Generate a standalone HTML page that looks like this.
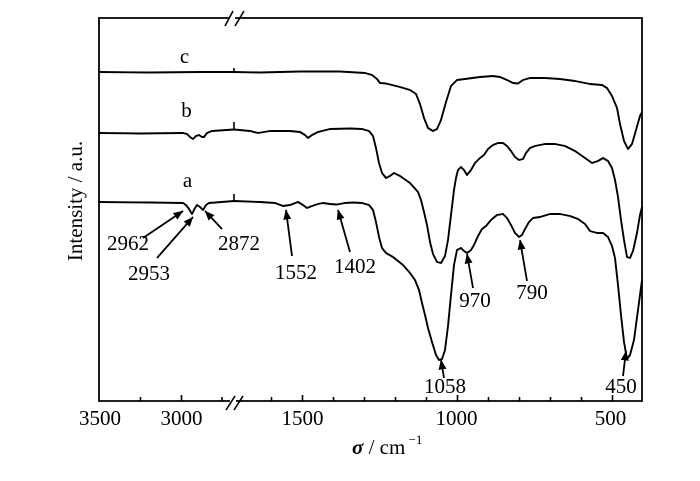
<!DOCTYPE html>
<html>
<head>
<meta charset="utf-8">
<style>
  html,body{margin:0;padding:0;background:#fff;}
  svg{display:block;}
  text{font-family:"Liberation Serif","Times New Roman",serif;font-size:21px;fill:#000;}
</style>
</head>
<body>
<svg width="700" height="481" viewBox="0 0 700 481" xmlns="http://www.w3.org/2000/svg">
  <defs>
    <marker id="ah" markerWidth="10" markerHeight="8" refX="9.5" refY="4" orient="auto" markerUnits="userSpaceOnUse">
      <path d="M0,0 L10,4 L0,8 Z" fill="#000"/>
    </marker>
  </defs>
  <rect width="700" height="481" fill="#fff"/>

  <!-- frame -->
  <g stroke="#000" stroke-width="1.8" fill="none">
    <line x1="99" y1="18" x2="642" y2="18"/>
    <line x1="99" y1="17.1" x2="99" y2="401.9"/>
    <line x1="642" y1="17.1" x2="642" y2="401.9"/>
    <line x1="99" y1="401" x2="642" y2="401"/>
  </g>

  <!-- break marks -->
  <rect x="229" y="14" width="6" height="8" fill="#fff"/>
  <rect x="230" y="397" width="6" height="8" fill="#fff"/>
  <g stroke="#000" stroke-width="1.6">
    <line x1="225" y1="26" x2="233" y2="11"/>
    <line x1="235" y1="26" x2="244" y2="11"/>
    <line x1="226" y1="410" x2="235" y2="396"/>
    <line x1="234" y1="410" x2="243" y2="396"/>
  </g>

  <!-- ticks -->
  <g stroke="#000" stroke-width="1.6">
    <line x1="140.5" y1="401" x2="140.5" y2="397"/>
    <line x1="181.5" y1="401" x2="181.5" y2="395"/>
    <line x1="222" y1="401" x2="222" y2="397"/>
    <line x1="271.5" y1="401" x2="271.5" y2="397"/>
    <line x1="302.5" y1="401" x2="302.5" y2="395"/>
    <line x1="333.5" y1="401" x2="333.5" y2="397"/>
    <line x1="364.5" y1="401" x2="364.5" y2="397"/>
    <line x1="395.5" y1="401" x2="395.5" y2="397"/>
    <line x1="426.5" y1="401" x2="426.5" y2="397"/>
    <line x1="457.5" y1="401" x2="457.5" y2="395"/>
    <line x1="488.5" y1="401" x2="488.5" y2="397"/>
    <line x1="519.5" y1="401" x2="519.5" y2="397"/>
    <line x1="550.5" y1="401" x2="550.5" y2="397"/>
    <line x1="581.5" y1="401" x2="581.5" y2="397"/>
    <line x1="612.5" y1="401" x2="612.5" y2="395"/>
  </g>

  <!-- tick labels -->
  <g text-anchor="middle">
    <text x="100" y="425">3500</text>
    <text x="181.5" y="425">3000</text>
    <text x="302.5" y="425">1500</text>
    <text x="456.5" y="425">1000</text>
    <text x="610.5" y="425">500</text>
  </g>

  <!-- axis titles -->
  <text x="352" y="454"><tspan font-weight="bold" font-style="italic">σ</tspan> / cm<tspan font-size="13" dy="-10"> −1</tspan></text>
  <text transform="translate(82,201) rotate(-90)" text-anchor="middle">Intensity / a.u.</text>

  <!-- curve labels -->
  <g text-anchor="middle">
    <text x="184.5" y="63">c</text>
    <text x="186.5" y="117">b</text>
    <text x="187.5" y="187">a</text>
  </g>

  <!-- curves -->
  <g stroke="#000" stroke-width="1.9" fill="none" stroke-linejoin="round" stroke-linecap="round">
    <polyline points="99,72 150,72.5 200,72 234,72 260,72.5 300,71.5 340,71.5 365,73 372,75 377,79 380,83 386,83.5 400,87 410,90 416,94 420,104 424,118 428,128 433,131 437,129 441,120 446,102 451,86 457,80 465,79 480,77 493,76 500,77 507,80 513,83 518,83.5 523,80 530,78 545,78 560,79 575,81 590,84 602,85 607,88 612,96 617,108 620,124 624,141 628,149 632,144 636,130 640,116 642,112"/>
    <polyline points="99,133 140,133.5 183,133 187,134 190,137 193,139 196,136 199,135 202,137 204,137 207,133 212,131 234,129.5 250,131 258,133 270,131 290,131 300,132 305,135 308,138 312,135 318,132 330,129 350,128.5 362,129 369,131 373,136 376,148 379,163 382,173 386,178 390,176 394,173 400,176 410,183 418,192 421,200 424,212 427,225 430,242 433,254 437,262 441,263 445,256 448,240 451,215 454,190 456,178 458,170 461,167 464,170 467,175 471,170 475,163 480,158 484,155 488,149 493,145 498,143 503,143 507,146 511,151 515,157 519,160 523,159 526,153 530,148 535,146 545,144 555,144 565,146 575,151 585,158 592,163 598,161 603,158 608,161 612,168 615,180 618,197 621,220 624,240 627,257 630,258 633,251 637,233 640,215 642,207"/>
    <polyline points="99,202 150,202.5 183,203 186,205 189,209 192,214 195,208 197,205 200,207 203,210 206,205 209,203 234,201 260,202 275,203 283,206 290,205 298,202 303,205 307,208 312,206 318,204 323,203 330,204 337,204.5 345,203 353,202.5 362,203 369,205 373,210 376,222 379,237 382,248 386,253 393,257 403,265 410,273 415,280 419,290 422,303 425,315 428,328 432,342 436,355 439,360 442,359 445,350 448,326 451,295 454,265 457,250 461,248 464,251 467,253 471,250 474,245 478,236 482,229 486,226 491,220 497,215 503,214 507,218 511,225 515,233 519,237 522,235 525,229 529,222 533,218 540,217 550,214 560,214 570,216 578,219 585,224 590,231 597,233 603,233 608,237 612,246 615,258 618,285 621,315 624,342 627,359 630,355 634,340 638,310 642,280"/>
  </g>

  <!-- break ticks on curves -->
  <g stroke="#000" stroke-width="1.6">
    <line x1="234" y1="68" x2="234" y2="72"/>
    <line x1="234" y1="122" x2="234" y2="129.5"/>
    <line x1="234" y1="194" x2="234" y2="201"/>
  </g>

  <!-- arrows -->
  <g stroke="#000" stroke-width="1.8" marker-end="url(#ah)">
    <line x1="143" y1="238" x2="183" y2="211"/>
    <line x1="157" y1="258" x2="193" y2="217"/>
    <line x1="222" y1="229" x2="205" y2="211"/>
    <line x1="292" y1="256" x2="286" y2="210"/>
    <line x1="350" y1="252" x2="338" y2="210"/>
    <line x1="473" y1="288" x2="467" y2="254"/>
    <line x1="527" y1="281" x2="520" y2="240"/>
    <line x1="444" y1="378" x2="441" y2="360"/>
    <line x1="623" y1="376" x2="626" y2="351"/>
  </g>

  <!-- peak labels -->
  <g text-anchor="middle">
    <text x="128" y="250">2962</text>
    <text x="149" y="280">2953</text>
    <text x="239" y="250">2872</text>
    <text x="296" y="279">1552</text>
    <text x="355" y="273">1402</text>
    <text x="475" y="307">970</text>
    <text x="532" y="299">790</text>
    <text x="445" y="393">1058</text>
    <text x="621" y="393">450</text>
  </g>
</svg>
</body>
</html>
